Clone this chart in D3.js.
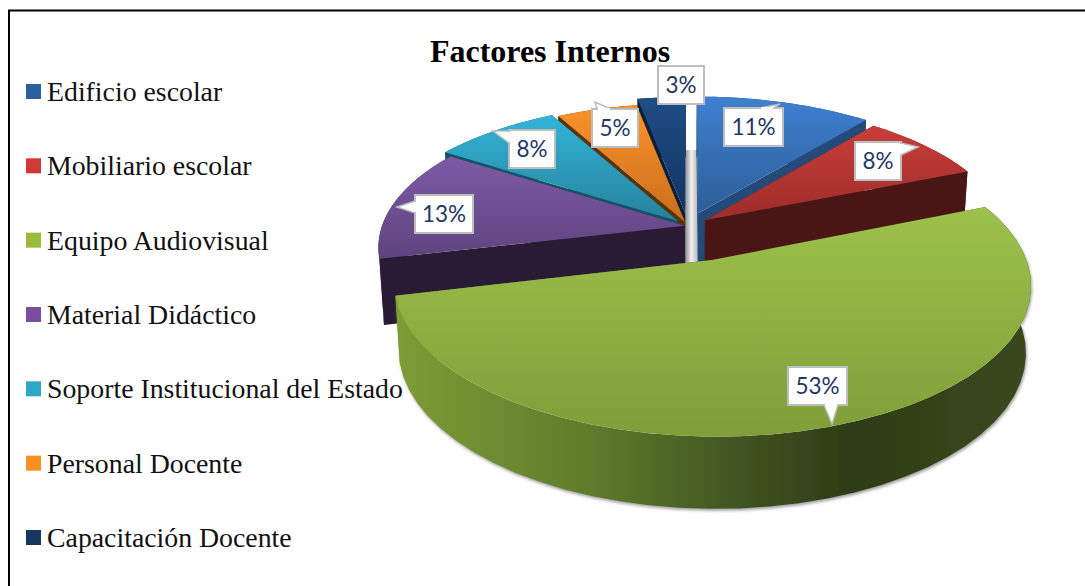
<!DOCTYPE html>
<html>
<head>
<meta charset="utf-8">
<script src="https://cdn.jsdelivr.net/npm/d3@7"></script>
<style>
html, body { margin: 0; padding: 0; background: #fff; overflow: hidden; }
svg { display: block; }
</style>
</head>
<body>
<div id="chart"></div>
<script>
const chartTitle = "Factores Internos";
const categories = ["Edificio escolar", "Mobiliario escolar", "Equipo Audiovisual", "Material Didáctico",
    "Soporte Institucional del Estado", "Personal Docente", "Capacitación Docente"];
const percents = [11, 8, 53, 13, 8, 5, 3];

const legendColors = ["#2c5f9e", "#cf3a36", "#9bbb3c", "#7a4f9e", "#2fa8c8", "#f79020", "#17375e"];
const topLight = ["#3f80d0", "#c93e3a", "#9dc24a", "#7e5aa6", "#33b4d8", "#fb9329", "#1f4e85"];
const topDark = ["#2d5e98", "#9c2c2a", "#7f9e3a", "#5f437f", "#26829c", "#c96d1d", "#123260"];
const wallColors = ["#244a7c", "#4a1515", "#55712a", "#2a1b35", "#0f5566", "#5a3208", "#0b2038"];

// how far each slice is pulled out of the pie
const explode = [0.1, 0.07, 0.25, 0.01, 0.05, 0.03, 0.09];
// painter order, back slices first
const drawOrder = [6, 0, 5, 4, 1, 3, 2];
// label boxes [left, top, width] and callout tip (null = no tip)
const labelBoxes = [[724, 108, 59], [855, 142, 46], [788, 367, 59], [415, 195, 58], [509, 130, 46], [592, 109, 46], [658, 66, 46]];
const labelTips = [[780, 104], [918, 147], [832, 424], [397, 207], [493, 131], [595, 102], null];

const width = 1085, height = 586;
const cx = 688, cy = 226, radiusX = 303, radiusY = 138, persp = 0.1527, thick = 65;

const svg = d3.select("#chart").append("svg")
    .attr("width", width).attr("height", height).attr("viewBox", "0 0 " + width + " " + height);
const defs = svg.append("defs");

/* frame */
svg.append("rect").attr("x", 9).attr("y", 10.5).attr("width", 1200).attr("height", 800)
    .attr("fill", "#fff").attr("stroke", "#000").attr("stroke-width", 2);

svg.append("text").attr("x", 550).attr("y", 62).attr("text-anchor", "middle")
    .attr("font-family", "'Liberation Serif'").attr("font-weight", "bold").attr("font-size", 32)
    .text(chartTitle);

/* legend */
const legendY = d3.scalePoint().domain(categories).range([92, 538]);
const legend = svg.append("g").selectAll("g").data(categories).enter().append("g")
    .attr("transform", d => "translate(26," + legendY(d) + ")");
legend.append("rect").attr("y", -8).attr("width", 15).attr("height", 15)
    .attr("fill", (d, i) => legendColors[i]);
legend.append("text").attr("x", 21).attr("y", 9)
    .attr("font-family", "'Liberation Serif'").attr("font-size", 27.8).attr("fill", "#111")
    .text(d => d);

/* the pie is laid out flat and then projected with a little perspective */
const slices = d3.pie().sort(null).value(d => d)(percents);

function project(u, v, bottom) {
    const k = 1 / (1 - persp * v);
    const shrink = bottom ? 0.985 : 1;
    return [cx + radiusX * u * k * shrink, cy + radiusY * v * k + (bottom ? thick * Math.sqrt(k) : 0)];
}

function slicePoints(s, i, bottom) {
    const mid = (s.startAngle + s.endAngle) / 2;
    const ou = explode[i] * Math.sin(mid), ov = -explode[i] * Math.cos(mid);
    const rim = d3.range(0, 41).map(j => {
        const a = s.startAngle + (s.endAngle - s.startAngle) * j / 40;
        return project(ou + Math.sin(a), ov - Math.cos(a), bottom);
    });
    return { apex: project(ou, ov, bottom), rim: rim };
}

const line = d3.line();
function closed(pts) { return line(pts) + "Z"; }

function hGradient(id, x1, x2, stops) {
    defs.append("linearGradient").attr("id", id).attr("gradientUnits", "userSpaceOnUse")
        .attr("x1", x1).attr("x2", x2).attr("y1", 0).attr("y2", 0)
        .selectAll("stop").data(stops).enter().append("stop")
        .attr("offset", d => d[0]).attr("stop-color", d => d[1]);
}
hGradient("greenWall", 400, 1030, [[0, "#7c9c36"], [0.3, "#5f7c2b"], [0.55, "#3f5220"], [0.72, "#2d3b16"], [0.88, "#36441a"], [1, "#3a481c"]]);
hGradient("gapStrip", 686, 698, [[0, "#9a9a9a"], [0.45, "#f2f2f2"], [1, "#b5b5b5"]]);

const wallShadow = defs.append("filter").attr("id", "wallShadow")
    .attr("x", "-5%").attr("y", "-5%").attr("width", "110%").attr("height", "115%");
wallShadow.append("feDropShadow").attr("dx", 1).attr("dy", 2).attr("stdDeviation", 1.5)
    .attr("flood-color", "#777").attr("flood-opacity", 0.7);

const pieG = svg.append("g");
// grey strip that shows in the gap behind the blue and navy slices
pieG.append("rect").attr("x", 686).attr("y", 150).attr("width", 12).attr("height", 118).attr("fill", "url(#gapStrip)");

drawOrder.forEach(i => {
    const s = slices[i];
    const top = slicePoints(s, i, false), bot = slicePoints(s, i, true);
    const n = top.rim.length - 1;
    const wall = i === 2 ? "url(#greenWall)" : wallColors[i];
    const g = pieG.append("g");

    // outer wall first, so its shadow stays off the cut faces
    g.append("path").attr("d", closed(top.rim.concat(bot.rim.slice().reverse()))).attr("fill", wall)
        .attr("filter", (i === 2 || i === 3) ? "url(#wallShadow)" : null);
    g.append("path").attr("d", closed([top.apex, top.rim[0], bot.rim[0], bot.apex])).attr("fill", wall);
    g.append("path").attr("d", closed([top.apex, top.rim[n], bot.rim[n], bot.apex])).attr("fill", wall);

    const ys = top.rim.map(p => p[1]).concat(top.apex[1]);
    const gradId = "top" + i;
    const grad = defs.append("linearGradient").attr("id", gradId).attr("gradientUnits", "userSpaceOnUse")
        .attr("x1", 0).attr("x2", 0).attr("y1", d3.min(ys)).attr("y2", d3.max(ys));
    grad.append("stop").attr("offset", 0).attr("stop-color", topLight[i]);
    grad.append("stop").attr("offset", 1).attr("stop-color", topDark[i]);
    g.append("path").attr("d", closed([top.apex].concat(top.rim))).attr("fill", "url(#" + gradId + ")");
});

/* data labels */
const labels = svg.append("g").selectAll("g").data(percents).enter().append("g");
labels.each(function (d, i) {
    const box = labelBoxes[i], tip = labelTips[i], h = 38;
    const g = d3.select(this);
    let gapA = null, gapB = null;
    if (tip) {
        const dx = tip[0] - (box[0] + box[2] / 2), dy = tip[1] - (box[1] + h / 2);
        let a, b;
        if (Math.abs(dy) / h > Math.abs(dx) / box[2]) {
            const ey = dy < 0 ? box[1] : box[1] + h;
            const ex = Math.max(box[0] + 12, Math.min(tip[0], box[0] + box[2] - 16));
            a = [ex - 7, ey]; b = [ex + 7, ey];
            gapA = [ex - 6, ey]; gapB = [ex + 6, ey];
        } else {
            const ex = dx < 0 ? box[0] : box[0] + box[2];
            const ey = Math.max(box[1] + 7, Math.min(tip[1], box[1] + h - 7));
            a = [ex, ey - 6]; b = [ex, ey + 6];
            gapA = [ex, ey - 5]; gapB = [ex, ey + 5];
        }
        g.append("path").attr("d", closed([a, tip, b])).attr("fill", "#fff").attr("stroke", "#bdbdbd").attr("stroke-width", 1.5);
    }
    g.append("rect").attr("x", box[0]).attr("y", box[1]).attr("width", box[2]).attr("height", h)
        .attr("fill", "#fff").attr("stroke", "#bdbdbd").attr("stroke-width", 2);
    if (gapA) {
        // hide the box border where the callout leaves it
        g.append("path").attr("d", line([gapA, gapB])).attr("stroke", "#fff").attr("stroke-width", 2);
    }
    g.append("text").attr("x", box[0] + box[2] / 2).attr("y", box[1] + 27).attr("text-anchor", "middle")
        .attr("font-family", "Lato").attr("font-size", 22.5).attr("fill", "#1f3864")
        .text(d + "%");
});
</script>
</body>
</html>
